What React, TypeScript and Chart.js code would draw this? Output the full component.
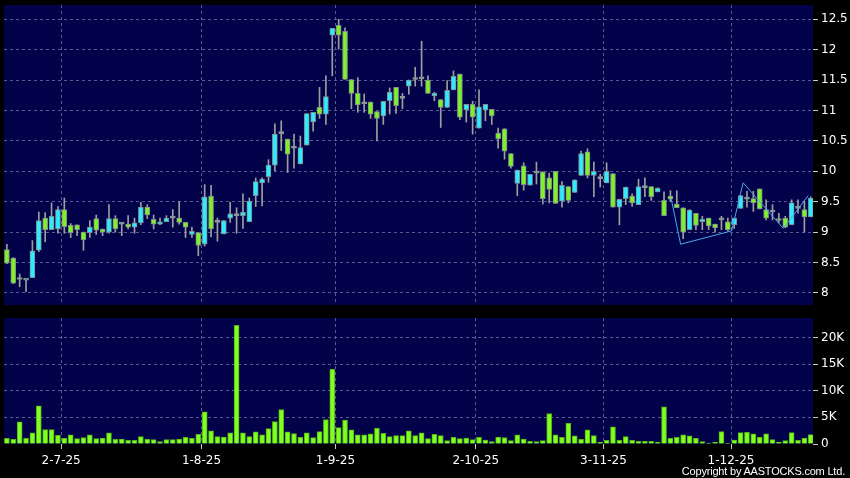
import React, { useEffect, useRef } from 'react';
import Chart from 'chart.js/auto';

// ---- Data ----
const opens = [
  8.71, 8.57, 8.24, 8.21, 8.25, 8.70, 9.23, 9.04, 9.05, 9.37,
  9.11, 9.12, 9.00, 8.99, 9.22, 9.05, 9.00, 9.22, 9.13, 9.13,
  9.08, 9.15, 9.41, 9.21, 9.13, 9.17, 9.23, 9.23, 9.16, 8.96,
  8.99, 8.80, 9.59, 9.16, 8.97, 9.23, 9.27, 9.27, 9.17, 9.60,
  9.81, 9.91, 10.10, 10.62, 10.53, 10.38, 10.12, 10.43, 10.81, 11.05,
  10.94, 12.24, 12.40, 12.30, 11.51, 11.28, 11.11, 11.14, 10.98, 10.91,
  11.16, 11.38, 11.20, 11.40, 11.51, 11.52, 11.50, 11.24, 11.18, 11.05,
  11.34, 11.60, 11.01, 11.10, 10.71, 11.01, 11.02, 10.63, 10.70, 10.29,
  9.80, 10.09, 9.77, 9.97, 9.99, 9.89, 10.00, 9.51, 9.75, 9.65,
  9.93, 10.32, 9.93, 9.88, 9.81, 9.96, 9.41, 9.55, 9.59, 9.45,
  9.73, 9.75, 9.66, 9.52, 9.59, 9.46, 9.40, 9.04, 9.31, 9.17,
  9.23, 9.13, 9.20, 9.17, 9.12, 9.39, 9.54, 9.55, 9.71, 9.37,
  9.33, 9.22, 9.23, 9.12, 9.39, 9.37, 9.25,
];
const highs = [
  8.80, 8.58, 8.31, 8.21, 8.86, 9.33, 9.32, 9.48, 9.42, 9.56,
  9.14, 9.12, 9.00, 9.19, 9.28, 9.05, 9.45, 9.27, 9.15, 9.27,
  9.23, 9.49, 9.45, 9.28, 9.23, 9.27, 9.37, 9.50, 9.16, 9.08,
  8.99, 9.78, 9.77, 9.23, 9.19, 9.49, 9.40, 9.63, 9.56, 9.89,
  9.89, 10.19, 10.78, 10.83, 10.53, 10.61, 10.58, 10.95, 10.97, 11.38,
  11.57, 12.35, 12.50, 12.36, 11.51, 11.54, 11.27, 11.14, 10.98, 11.15,
  11.37, 11.38, 11.28, 11.50, 11.71, 12.14, 11.57, 11.30, 11.18, 11.49,
  11.65, 11.60, 11.10, 11.15, 11.34, 11.10, 11.02, 10.71, 10.70, 10.29,
  10.02, 10.14, 9.95, 10.15, 9.99, 9.97, 10.00, 9.83, 9.75, 9.86,
  10.33, 10.37, 10.15, 9.95, 10.14, 9.96, 9.54, 9.74, 9.63, 9.87,
  9.89, 9.75, 9.73, 9.66, 9.68, 9.68, 9.40, 9.37, 9.31, 9.26,
  9.23, 9.13, 9.26, 9.23, 9.23, 9.60, 9.67, 9.67, 9.71, 9.53,
  9.45, 9.31, 9.26, 9.53, 9.53, 9.51, 9.58,
];
const lows = [
  8.48, 8.15, 8.10, 8.02, 8.25, 8.68, 8.84, 9.04, 8.98, 8.98,
  8.91, 8.94, 8.70, 8.91, 8.96, 8.94, 8.98, 9.00, 8.94, 9.05,
  8.98, 9.12, 9.22, 9.05, 9.12, 9.17, 9.08, 9.13, 8.91, 8.91,
  8.61, 8.77, 8.92, 8.85, 8.97, 9.16, 8.98, 9.06, 9.17, 9.42,
  9.43, 9.82, 10.01, 10.34, 9.98, 10.05, 10.12, 10.43, 10.66, 10.87,
  10.77, 11.57, 12.01, 11.51, 11.03, 10.97, 10.97, 10.87, 10.50, 10.77,
  10.94, 10.95, 11.03, 11.27, 11.40, 11.40, 11.28, 11.16, 10.72, 11.05,
  11.34, 10.85, 10.81, 10.61, 10.71, 10.83, 10.77, 10.38, 10.20, 10.05,
  9.60, 9.69, 9.77, 9.79, 9.46, 9.48, 9.47, 9.41, 9.48, 9.65,
  9.93, 9.89, 9.58, 9.74, 9.81, 9.41, 9.12, 9.45, 9.42, 9.45,
  9.58, 9.52, 9.66, 9.27, 9.50, 9.40, 8.89, 9.04, 9.04, 9.04,
  9.04, 9.00, 9.04, 9.02, 9.06, 9.39, 9.41, 9.34, 9.38, 9.20,
  9.20, 9.15, 9.07, 9.12, 9.31, 9.00, 9.25,
];
const closes = [
  8.49, 8.16, 8.22, 8.21, 8.69, 9.19, 9.04, 9.26, 9.37, 9.09,
  8.99, 9.04, 8.87, 9.08, 9.03, 9.00, 9.22, 9.05, 9.13, 9.08,
  9.15, 9.41, 9.28, 9.13, 9.17, 9.23, 9.23, 9.16, 9.08, 9.01,
  8.78, 9.58, 9.05, 9.16, 9.19, 9.30, 9.27, 9.33, 9.51, 9.83,
  9.87, 10.10, 10.61, 10.62, 10.28, 10.38, 10.39, 10.95, 10.97, 10.94,
  11.23, 12.35, 12.24, 11.51, 11.28, 11.09, 11.11, 10.94, 10.87, 11.15,
  11.30, 11.08, 11.20, 11.50, 11.51, 11.52, 11.28, 11.28, 11.05, 11.33,
  11.56, 10.89, 11.10, 10.89, 11.06, 11.10, 10.91, 10.53, 10.33, 10.08,
  10.02, 9.78, 9.95, 9.97, 9.55, 9.70, 9.47, 9.77, 9.52, 9.86,
  10.29, 9.93, 10.00, 9.88, 10.00, 9.41, 9.54, 9.74, 9.48, 9.75,
  9.73, 9.58, 9.72, 9.27, 9.54, 9.40, 9.00, 9.36, 9.11, 9.21,
  9.10, 9.07, 9.20, 9.04, 9.23, 9.60, 9.54, 9.48, 9.38, 9.23,
  9.33, 9.19, 9.08, 9.48, 9.39, 9.25, 9.56,
];
const volumes = [
  1070, 880, 4150, 1070, 2080, 7170, 2700, 2700, 1640, 1070,
  1700, 1010, 1200, 1700, 1010, 1130, 2080, 880, 940, 690,
  690, 1380, 880, 820, 440, 820, 820, 940, 1260, 1070,
  1820, 6040, 2450, 1380, 1320, 2080, 22270, 2080, 1380, 2260,
  1700, 2890, 4210, 6480, 2260, 1950, 1260, 2080, 1200, 2330,
  4590, 14030, 3080, 4470, 2640, 1700, 1700, 1890, 2960, 2010,
  1380, 1570, 1570, 2450, 1570, 2080, 1010, 1820, 1570, 630,
  1260, 1010, 1130, 820, 1260, 750, 440, 1320, 1200, 630,
  1700, 940, 500, 440, 630, 5720, 1700, 1260, 3900, 1510,
  880, 2640, 1570, 380, 690, 3210, 690, 1380, 690, 500,
  500, 500, 380, 6980, 1070, 1260, 1700, 1510, 1070, 440,
  190, 310, 2330, 130, 750, 2140, 2200, 1890, 1260, 1890,
  820, 380, 630, 2140, 690, 1130, 1760,
];
const dateLabels = ['2-7-25', '1-8-25', '1-9-25', '2-10-25', '3-11-25', '1-12-25'];
const dateIndex = [8, 30, 51, 73, 93, 113];
const priceTicks = [8, 8.5, 9, 9.5, 10, 10.5, 11, 11.5, 12, 12.5];
const volumeTicks = [0, 5000, 10000, 15000, 20000];
const patternX = [104.1, 105.6, 113.6, 115.4, 121.7, 125.6];
const patternY = [9.56, 8.8, 9.02, 9.81, 9.06, 9.6];

// ---- Styles ----
const NAVY = '#02024a';
const GRID = '#5a5a8e';
const TICK_COLOR = '#c8c8c8';
const UP = '#30eaff';
const DOWN = '#80f028';
const DOJI = '#8c9a9a';
const BODY_BORDER = '#7d8e8e';
const WICK = '#9e9e9e';
const VOL_FILL = '#80ff20';
const VOL_BORDER = '#54b412';
const LINE = '#4da6e8';
const X_MIN = -0.455;
const X_MAX = 126.35;

const plotBg = {
  id: 'plotBg',
  beforeDraw(chart: any) {
    const { ctx, chartArea: a } = chart;
    ctx.save();
    ctx.fillStyle = NAVY;
    ctx.fillRect(a.left, a.top, a.right - a.left, a.bottom - a.top);
    ctx.restore();
  },
};

const gridPositions = dateIndex.map((d) => d + 0.5);

function clearPad(s: any) {
  s.paddingTop = 0;
  s.paddingBottom = 0;
  s.paddingLeft = 0;
  s.paddingRight = 0;
}

export default function App() {
  const priceRef = useRef<HTMLCanvasElement>(null);
  const volRef = useRef<HTMLCanvasElement>(null);

  useEffect(() => {
    Chart.defaults.font.family = '"DejaVu Sans", sans-serif';
    const idx = opens.map((_, i) => i);
    const bodyColors = idx.map((i) =>
      closes[i] > opens[i] ? UP : closes[i] < opens[i] ? DOWN : DOJI
    );
    const bodyBorders = idx.map((i) => (closes[i] === opens[i] ? DOJI : BODY_BORDER));

    const price = new Chart(priceRef.current!, {
      type: 'bar',
      data: {
        datasets: [
          {
            type: 'line',
            data: patternX.map((x, k) => ({ x, y: patternY[k] })),
            borderColor: LINE,
            borderWidth: 1,
            pointRadius: 0,
            tension: 0,
          } as any,
          {
            type: 'bar',
            data: idx.map((i) => ({ x: i, y: [opens[i], closes[i]] })),
            backgroundColor: bodyColors,
            borderColor: bodyBorders,
            borderWidth: 1,
            borderSkipped: false,
            barThickness: 5,
            minBarLength: 2,
            grouped: false,
          } as any,
          {
            type: 'bar',
            data: idx.map((i) => ({ x: i, y: [lows[i], highs[i]] })),
            backgroundColor: WICK,
            borderWidth: 0,
            barThickness: 1,
            grouped: false,
          } as any,
        ],
      },
      options: {
        animation: false,
        responsive: false,
        maintainAspectRatio: false,
        layout: { padding: { left: 4, top: 5, right: 0, bottom: 0 } },
        plugins: { legend: { display: false }, tooltip: { enabled: false } },
        scales: {
          x: {
            type: 'linear',
            offset: false,
            min: X_MIN,
            max: X_MAX,
            afterBuildTicks: (s: any) => {
              s.ticks = gridPositions.map((v) => ({ value: v }));
            },
            ticks: { display: false },
            grid: { color: GRID, drawTicks: false, lineWidth: 1, offset: false },
            border: { display: false, dash: [3, 3] },
            afterFit: (s: any) => {
              s.height = 0;
              clearPad(s);
            },
          },
          y: {
            position: 'right',
            min: 7.8,
            max: 12.735,
            afterBuildTicks: (s: any) => {
              s.ticks = priceTicks.map((v) => ({ value: v }));
            },
            ticks: {
              color: '#ffffff',
              font: { size: 12 },
              padding: 3,
              callback: (v: any) => String(v),
            },
            grid: { color: GRID, tickColor: TICK_COLOR, tickLength: 5, lineWidth: 1 },
            border: { display: false, dash: [3, 3] },
            afterFit: (s: any) => {
              s.width = 37;
              clearPad(s);
            },
          },
        },
      } as any,
      plugins: [plotBg],
    });

    const vol = new Chart(volRef.current!, {
      type: 'bar',
      data: {
        datasets: [
          {
            data: idx.map((i) => ({ x: i, y: volumes[i] })),
            backgroundColor: VOL_FILL,
            borderColor: VOL_BORDER,
            borderWidth: 1,
            borderSkipped: 'start',
            barThickness: 5,
            grouped: false,
          } as any,
        ],
      },
      options: {
        animation: false,
        responsive: false,
        maintainAspectRatio: false,
        layout: { padding: { left: 4, top: 7, right: 0, bottom: 0 } },
        plugins: { legend: { display: false }, tooltip: { enabled: false } },
        scales: {
          x: {
            type: 'linear',
            offset: false,
            min: X_MIN,
            max: X_MAX,
            afterBuildTicks: (s: any) => {
              s.ticks = gridPositions.map((v) => ({ value: v }));
            },
            ticks: {
              color: '#ffffff',
              font: { size: 12 },
              padding: 5,
              maxRotation: 0,
              autoSkip: false,
              callback: (v: any) => {
                const k = gridPositions.indexOf(v);
                return k >= 0 ? dateLabels[k] : '';
              },
            },
            grid: { color: GRID, tickColor: TICK_COLOR, tickLength: 5, lineWidth: 1, offset: false },
            border: { display: false, dash: [3, 3] },
            afterFit: (s: any) => {
              s.height = 34;
              clearPad(s);
            },
          },
          y: {
            position: 'right',
            min: 0,
            max: 23640,
            afterBuildTicks: (s: any) => {
              s.ticks = volumeTicks.map((v) => ({ value: v }));
            },
            ticks: {
              color: '#ffffff',
              font: { size: 12 },
              padding: 3,
              callback: (v: any) => (v === 0 ? '0' : v / 1000 + 'K'),
            },
            grid: {
              color: (c: any) => (c.tick && c.tick.value === 0 ? 'rgba(0,0,0,0)' : GRID),
              tickColor: TICK_COLOR,
              tickLength: 5,
              lineWidth: 1,
            },
            border: { display: false, dash: [3, 3] },
            afterFit: (s: any) => {
              s.width = 37;
              clearPad(s);
            },
          },
        },
      } as any,
      plugins: [plotBg],
    });

    return () => {
      price.destroy();
      vol.destroy();
    };
  }, []);

  return (
    <div
      style={{
        position: 'fixed',
        left: 0,
        top: 0,
        width: 850,
        height: 478,
        background: '#000000',
        overflow: 'hidden',
      }}
    >
      <canvas
        ref={priceRef}
        width={850}
        height={305}
        style={{ position: 'absolute', left: 0, top: 0, width: 850, height: 305 }}
      />
      <canvas
        ref={volRef}
        width={850}
        height={167}
        style={{ position: 'absolute', left: 0, top: 311, width: 850, height: 167 }}
      />
      <div
        style={{
          position: 'absolute',
          right: 5,
          top: 464,
          color: '#ffffff',
          font: '11px "Liberation Sans", Arial, sans-serif',
          letterSpacing: '-0.2px',
          lineHeight: '14px',
          whiteSpace: 'nowrap',
        }}
      >
        Copyright by AASTOCKS.com Ltd.
      </div>
    </div>
  );
}
